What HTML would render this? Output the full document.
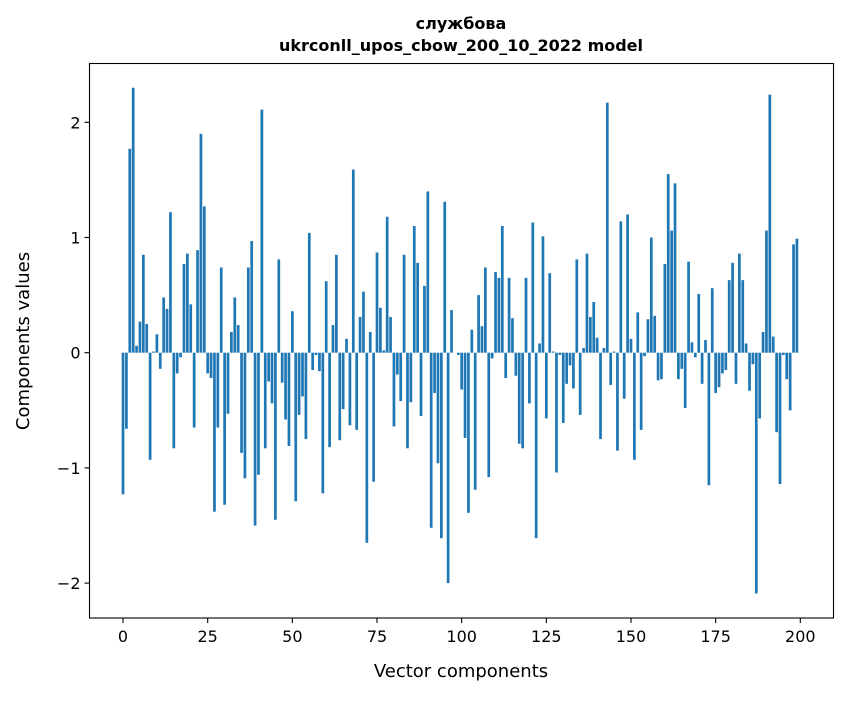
<!DOCTYPE html>
<html><head><meta charset="utf-8"><style>
body{margin:0;background:#fff;}
text{font-family:"DejaVu Sans","Liberation Sans",sans-serif;fill:#000;}
</style></head><body>
<svg id="chart" width="847" height="696" xmlns="http://www.w3.org/2000/svg">
<rect width="847" height="696" fill="#fff"/>
<text x="461" y="29" text-anchor="middle" font-size="16" font-weight="bold">службова</text>
<text x="461" y="51" text-anchor="middle" font-size="16" font-weight="bold">ukrconll_upos_cbow_200_10_2022 model</text>
<g id="bars"></g>
<g id="axes"></g>
<text x="461" y="677" text-anchor="middle" font-size="18">Vector components</text>
<text transform="translate(29,341) rotate(-90)" text-anchor="middle" font-size="18">Components values</text>
</svg>
<script>
const values = [-1.23,-0.66,1.77,2.30,0.06,0.27,0.85,0.25,-0.93,0.01,0.16,-0.14,0.48,0.38,1.22,-0.83,-0.18,-0.04,0.77,0.86,
0.42,-0.65,0.89,1.90,1.27,-0.18,-0.22,-1.38,-0.65,0.74,-1.32,-0.53,0.18,0.48,0.24,-0.87,-1.09,0.74,0.97,-1.50,
-1.06,2.11,-0.83,-0.25,-0.44,-1.45,0.81,-0.26,-0.58,-0.81,0.36,-1.29,-0.54,-0.38,-0.75,1.04,-0.15,-0.02,-0.16,-1.22,
0.62,-0.82,0.24,0.85,-0.76,-0.49,0.12,-0.63,1.59,-0.67,0.31,0.53,-1.65,0.18,-1.12,0.87,0.39,0.02,1.18,0.31,
-0.64,-0.19,-0.42,0.85,-0.83,-0.43,1.10,0.78,-0.55,0.58,1.40,-1.52,-0.35,-0.96,-1.61,1.31,-2.00,0.37,0.00,-0.02,
-0.32,-0.74,-1.39,0.20,-1.19,0.50,0.23,0.74,-1.08,-0.05,0.70,0.65,1.10,-0.22,0.65,0.30,-0.20,-0.79,-0.83,0.65,
-0.44,1.13,-1.61,0.08,1.01,-0.57,0.69,0.01,-1.04,-0.02,-0.61,-0.27,-0.11,-0.31,0.81,-0.54,0.04,0.86,0.31,0.44,
0.13,-0.75,0.04,2.17,-0.28,0.01,-0.85,1.14,-0.40,1.20,0.12,-0.93,0.35,-0.67,-0.03,0.29,1.00,0.32,-0.24,-0.23,
0.77,1.55,1.06,1.47,-0.23,-0.14,-0.48,0.79,0.09,-0.04,0.51,-0.27,0.11,-1.15,0.56,-0.35,-0.30,-0.18,-0.15,0.63,
0.78,-0.27,0.86,0.63,0.08,-0.33,-0.10,-2.09,-0.57,0.18,1.06,2.24,0.14,-0.69,-1.14,-0.02,-0.23,-0.50,0.94,0.99];
const xTicks = [0,25,50,75,100,125,150,175,200];
const yTicks = [-2,-1,0,1,2];
const yTickLabels = ["\u22122","\u22121","0","1","2"];

const L=89.5,R=833.5,T=63.5,B=618;
const xMin=-9.9,xMax=209.8;
const xs=v=>L+(v-xMin)/(xMax-xMin)*(R-L);
const ys=v=>352.7-v*115.2;
const NS="http://www.w3.org/2000/svg";
const bars=document.getElementById('bars');
values.forEach((v,i)=>{
  const r=document.createElementNS(NS,'rect');
  const x0=xs(i-0.4),x1=xs(i+0.4);
  r.setAttribute('x',x0);r.setAttribute('width',x1-x0);
  r.setAttribute('y',Math.min(ys(v),ys(0)));
  r.setAttribute('height',Math.abs(ys(v)-ys(0)));
  r.setAttribute('fill','#1f77b4');
  
  
  bars.appendChild(r);
});
const ax=document.getElementById('axes');
function el(tag,attrs,txt){const e=document.createElementNS(NS,tag);for(const k in attrs)e.setAttribute(k,attrs[k]);if(txt!==undefined)e.textContent=txt;ax.appendChild(e);return e;}
const frame=el('rect',{x:L,y:T,width:R-L,height:B-T,fill:'none',stroke:'#000','stroke-width':1.1});


xTicks.forEach(t=>{
  const x=xs(t);
  const l=el('line',{x1:x,x2:x,y1:B,y2:B+5,stroke:'#000','stroke-width':1.1});
  
  
  const tx=el('text',{x:x,y:B+24,'text-anchor':'middle','font-size':'16'},String(t));
  
  
});
yTicks.forEach((t,i)=>{
  const y=ys(t);
  const l=el('line',{x1:L-5,x2:L,y1:y,y2:y,stroke:'#000','stroke-width':1.1});
  
  
  const tx=el('text',{x:L-9,y:y+6,'text-anchor':'end','font-size':'16'},yTickLabels[i]);
  
  
});
</script>
</body></html>
